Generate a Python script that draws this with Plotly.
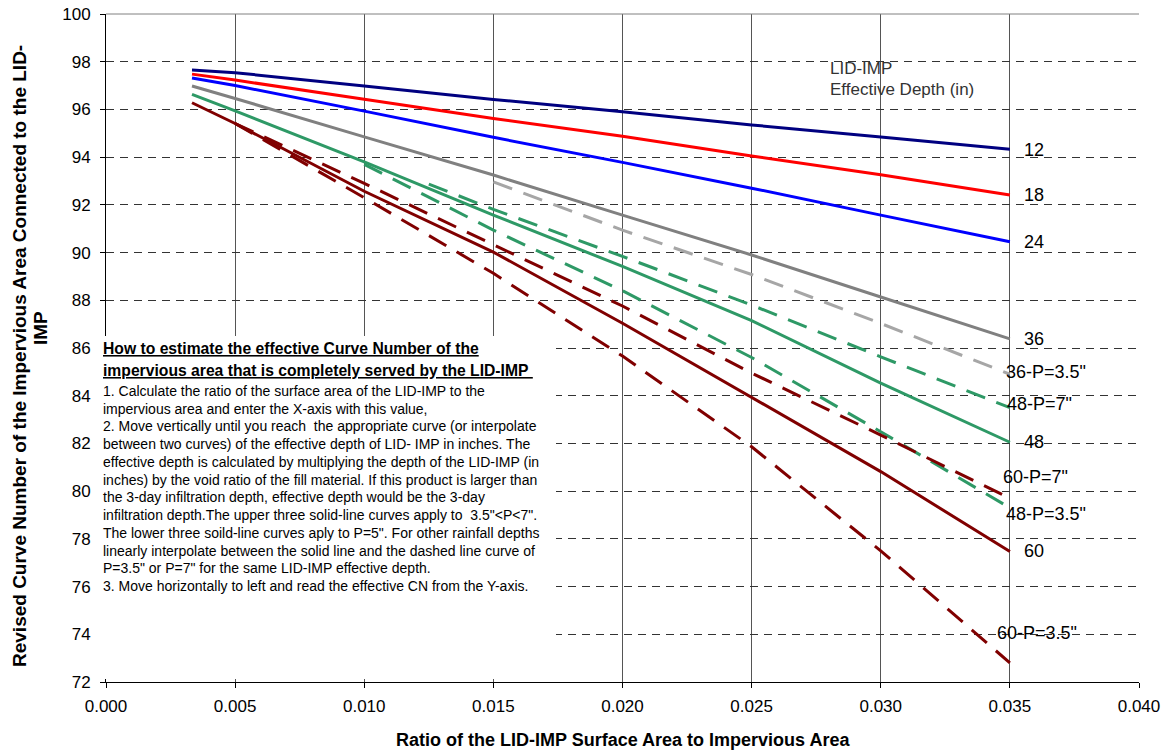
import plotly.graph_objects as go

# ---------------- data ----------------
x_solid = [0.00333, 0.005, 0.010, 0.015, 0.020, 0.025, 0.030, 0.035]
cn_12 = [97.65, 97.54, 96.98, 96.42, 95.90, 95.35, 94.84, 94.33]
cn_18 = [97.48, 97.23, 96.43, 95.62, 94.88, 94.05, 93.26, 92.41]
cn_24 = [97.32, 97.00, 95.93, 94.83, 93.78, 92.70, 91.57, 90.45]
cn_36 = [96.98, 96.46, 94.85, 93.25, 91.57, 89.90, 88.14, 86.38]
cn_48 = [96.63, 95.94, 93.80, 91.57, 89.42, 87.15, 84.53, 82.05]
cn_60 = [96.28, 95.41, 92.57, 90.02, 87.04, 83.94, 80.82, 77.47]

x_36_p35 = [0.015, 0.020, 0.025, 0.030, 0.035]
cn_36_p35 = [92.96, 90.94, 89.08, 87.03, 84.90]
x_48_p7 = [0.0125, 0.015, 0.020, 0.025, 0.030, 0.035]
cn_48_p7 = [92.87, 91.81, 89.84, 87.80, 85.63, 83.50]
x_48_p35 = [0.010, 0.015, 0.020, 0.025, 0.030, 0.035]
cn_48_p35 = [93.70, 90.94, 88.40, 85.60, 82.49, 79.30]
x_60_p = [0.005, 0.010, 0.015, 0.020, 0.025, 0.030, 0.035]
cn_60_p7 = [95.41, 92.90, 90.33, 87.76, 84.95, 82.35, 79.70]
cn_60_p35 = [95.41, 92.30, 89.13, 85.66, 81.86, 77.50, 72.80]

x_ticks = [0.000, 0.005, 0.010, 0.015, 0.020, 0.025, 0.030, 0.035, 0.040]
x_tick_text = ["0.000", "0.005", "0.010", "0.015", "0.020", "0.025", "0.030", "0.035", "0.040"]
y_ticks = [72, 74, 76, 78, 80, 82, 84, 86, 88, 90, 92, 94, 96, 98, 100]

curve_labels = ["12", "18", "24", "36", '36-P=3.5"', '48-P=7"', "48",
                '60-P=7"', '48-P=3.5"', "60", '60-P=3.5"']

title_lines = ["How to estimate the effective Curve Number of the",
               "impervious area that is completely served by the LID-IMP&nbsp;"]
body_lines = [
    "1. Calculate the ratio of the surface area of the LID-IMP to the",
    "impervious area and enter the X-axis with this value,",
    "2. Move vertically until you reach&nbsp; the appropriate curve (or interpolate",
    "between two curves) of the effective depth of LID- IMP in inches. The",
    "effective depth is calculated by multiplying the depth of the LID-IMP (in",
    "inches) by the void ratio of the fill material. If this product is larger than",
    "the 3-day infiltration depth, effective depth would be the 3-day",
    "infiltration depth.The upper three solid-line curves apply to&nbsp; 3.5\"&lt;P&lt;7\".",
    "The lower three soild-line curves aply to P=5\". For other rainfall depths",
    "linearly interpolate between the solid line and the dashed line curve of",
    "P=3.5\" or P=7\" for the same LID-IMP effective depth.",
    "3. Move horizontally to left and read the effective CN from the Y-axis.",
]

y_title_lines = ["Revised Curve Number of the Impervious Area Connected to the LID-", "IMP"]
x_title = "Ratio of the LID-IMP Surface Area to Impervious Area"

# ---------------- styling / layout helpers ----------------
FONT = "Liberation Sans, Arial, sans-serif"
W, H = 1171, 752
PL, PR, PT, PB = 106, 1139, 14, 682   # plot area in pixels


def px_x(px):
    return (px - PL) / (PR - PL)


def px_y(py):
    return (PB - py) / (PB - PT)


def data_x(px):
    return (px - PL) / (PR - PL) * 0.04


def data_y(py):
    return 100 - (py - PT) / (PB - PT) * 28


fig = go.Figure()

series = [
    (x_solid, cn_12, "#000080", "solid"),
    (x_solid, cn_18, "#FF0000", "solid"),
    (x_solid, cn_24, "#0000FF", "solid"),
    (x_solid, cn_36, "#808080", "solid"),
    (x_36_p35, cn_36_p35, "#A6A6A6", "20px,12px"),
    (x_48_p7, cn_48_p7, "#2E9966", "20px,12px"),
    (x_solid, cn_48, "#2E9966", "solid"),
    (x_48_p35, cn_48_p35, "#2E9966", "20px,12px"),
    (x_solid, cn_60, "#800000", "solid"),
    (x_60_p, cn_60_p7, "#800000", "20px,12px"),
    (x_60_p, cn_60_p35, "#800000", "20px,12px"),
]
for xs, ys, col, dash in series:
    fig.add_trace(go.Scatter(x=xs, y=ys, mode="lines",
                             line=dict(color=col, width=3, dash=dash),
                             showlegend=False, hoverinfo="skip"))

# curve end labels (positions in pixels of the reference)
label_pos = [(1022.7, 150), (1022.7, 195), (1022.7, 241.7), (1022.7, 339.3),
             (1005, 371.7), (1006, 404), (1022.7, 441.7), (1001.7, 476.7),
             (1005, 514.3), (1022.7, 551), (995.7, 633.3)]
annotations = []
for txt, (lx, ly) in zip(curve_labels, label_pos):
    annotations.append(dict(x=data_x(lx), y=data_y(ly), xref="x", yref="y",
                            text=txt, showarrow=False, xanchor="left",
                            yanchor="middle", borderpad=0,
                            font=dict(family=FONT, size=18, color="#000")))

# legend-like title
annotations.append(dict(x=data_x(829), y=data_y(68), xref="x", yref="y",
                        text="LID-IMP", showarrow=False, xanchor="left",
                        yanchor="middle", borderpad=0,
                        font=dict(family=FONT, size=17, color="#333")))
annotations.append(dict(x=data_x(829), y=data_y(89), xref="x", yref="y",
                        text="Effective Depth (in)", showarrow=False,
                        xanchor="left", yanchor="middle", borderpad=0,
                        font=dict(family=FONT, size=17, color="#333")))

# instruction box text
for i, t in enumerate(title_lines):
    annotations.append(dict(x=px_x(101.5), y=px_y(348.3 + i * 21.7),
                            xref="paper", yref="paper",
                            text="<b><u>" + t + "</u></b>", showarrow=False,
                            xanchor="left", yanchor="middle", borderpad=0,
                            font=dict(family=FONT, size=15.7, color="#000")))
for i, t in enumerate(body_lines):
    annotations.append(dict(x=px_x(101.5), y=px_y(391 + i * 17.73),
                            xref="paper", yref="paper",
                            text=t, showarrow=False,
                            xanchor="left", yanchor="middle", borderpad=0,
                            font=dict(family=FONT, size=14, color="#000")))

# axis titles
annotations.append(dict(x=0.5, y=px_y(740), xref="paper", yref="paper",
                        text="<b>" + x_title + "</b>",
                        showarrow=False, xanchor="center", yanchor="middle",
                        font=dict(family=FONT, size=18, color="#000")))
for t, cx, cy in zip(y_title_lines, [19, 40], [356, 328]):
    annotations.append(dict(x=px_x(cx), y=px_y(cy), xref="paper", yref="paper",
                            text="<b>" + t + "</b>",
                            showarrow=False, xanchor="center", yanchor="middle",
                            textangle=-90, borderpad=0,
                            font=dict(family=FONT, size=19, color="#000")))

shapes = [
    # top frame line
    dict(type="line", xref="paper", yref="paper", x0=0, x1=1, y0=1, y1=1,
         line=dict(color="#808080", width=1), layer="above"),
    # white box behind the instructions
    dict(type="rect", xref="paper", yref="paper",
         x0=px_x(99), x1=px_x(556), y0=px_y(679), y1=px_y(336),
         fillcolor="white", line=dict(width=0), layer="above"),
]

fig.update_layout(
    width=W, height=H,
    margin=dict(l=PL, r=W - PR, t=PT, b=H - PB, pad=0, autoexpand=False),
    paper_bgcolor="white", plot_bgcolor="white",
    font=dict(family=FONT, size=17, color="#000"),
    showlegend=False,
    annotations=annotations,
    shapes=shapes,
    xaxis=dict(range=[0, 0.04], tickvals=x_ticks, ticktext=x_tick_text,
               automargin=False,
               showgrid=True, gridcolor="#555", gridwidth=1,
               showline=True, linecolor="#000", linewidth=1,
               ticks="outside", ticklen=5, tickcolor="#000",
               ticklabelstandoff=4, zeroline=False,
               tickfont=dict(family=FONT, size=17, color="#000")),
    yaxis=dict(range=[72, 100], tickvals=y_ticks, automargin=False,
               showgrid=True, gridcolor="#333", gridwidth=1, griddash="8px,6px",
               showline=True, linecolor="#000", linewidth=1,
               ticks="outside", ticklen=5, tickcolor="#000",
               ticklabelstandoff=6, zeroline=False,
               tickfont=dict(family=FONT, size=17, color="#000")),
)

fig.write_html("out.html",
               config={"displayModeBar": False},
               post_script="document.body.style.margin='0';document.body.style.overflow='hidden';")
